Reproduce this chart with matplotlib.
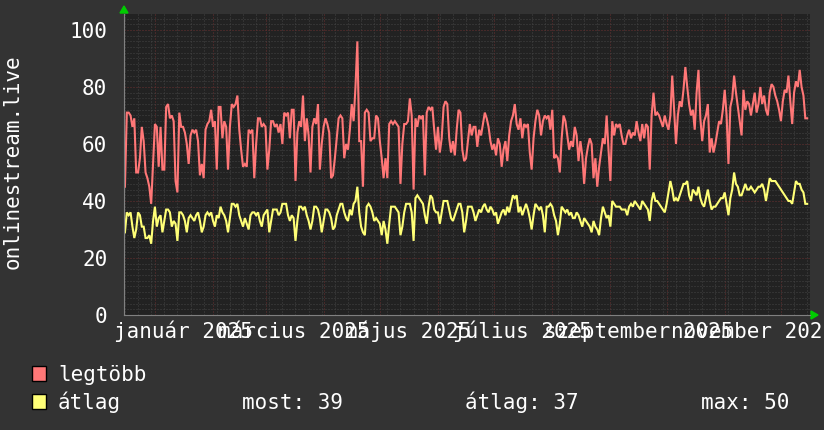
import numpy as np
import pandas as pd
import matplotlib
matplotlib.use("Agg")
import matplotlib.pyplot as plt
import matplotlib.dates as mdates
from matplotlib.patches import Rectangle, Polygon
from matplotlib.ticker import MultipleLocator

# ---------------- data ----------------
start_date = "2024-12-16"

legtobb = [
    45, 71, 71, 70, 66, 69, 50, 50, 55, 66,
    61, 50, 48, 45, 39, 53, 67, 66, 52, 66,
    51, 51, 73, 74, 69, 70, 68, 47, 43, 71,
    66, 66, 64, 60, 53, 63, 65, 64, 65, 61,
    49, 53, 48, 65, 67, 68, 72, 66, 68, 51,
    73, 73, 62, 68, 66, 51, 66, 74, 73, 74,
    77, 65, 58, 52, 53, 52, 65, 64, 65, 48,
    60, 69, 69, 66, 67, 66, 51, 58, 68, 68,
    66, 67, 64, 67, 60, 71, 70, 71, 62, 72,
    72, 47, 64, 68, 66, 77, 61, 69, 63, 50,
    66, 69, 67, 74, 51, 60, 66, 69, 67, 64,
    48, 49, 55, 62, 69, 70, 69, 55, 60, 58,
    65, 74, 68, 80, 96, 61, 61, 45, 71, 72,
    71, 61, 62, 62, 70, 69, 61, 55, 48, 55,
    48, 67, 68, 67, 68, 67, 66, 46, 60, 67,
    67, 68, 76, 70, 44, 69, 66, 70, 69, 70,
    49, 71, 73, 72, 73, 65, 58, 66, 57, 62,
    73, 75, 74, 62, 57, 61, 56, 65, 72, 71,
    58, 54, 55, 61, 67, 63, 66, 66, 59, 65,
    63, 67, 71, 69, 66, 61, 58, 60, 56, 62,
    60, 52, 58, 61, 54, 63, 68, 70, 74, 67,
    65, 69, 62, 67, 66, 67, 57, 51, 62, 68,
    72, 70, 63, 68, 70, 69, 70, 65, 72, 55,
    56, 55, 50, 62, 70, 68, 63, 58, 61, 59,
    66, 63, 54, 61, 56, 46, 55, 59, 62, 60,
    48, 55, 45, 52, 57, 62, 60, 70, 58, 47,
    68, 63, 67, 66, 67, 63, 60, 60, 63, 65,
    62, 64, 63, 68, 64, 61, 67, 62, 67, 66,
    51, 70, 78, 70, 71, 70, 68, 66, 70, 67,
    65, 70, 84, 72, 60, 70, 75, 73, 79, 87,
    80, 74, 70, 72, 65, 78, 86, 69, 61, 68,
    70, 74, 57, 62, 57, 60, 64, 68, 67, 72,
    79, 70, 53, 73, 76, 84, 78, 73, 68, 63,
    79, 72, 75, 74, 70, 74, 78, 71, 74, 80,
    74, 77, 72, 70, 78, 81, 80, 77, 75, 72,
    68, 75, 79, 78, 84, 75, 67, 78, 82, 80,
    86, 80, 77, 69, 69,
]

atlag = [
    29, 36, 35, 36, 31, 27, 30, 36, 35, 31,
    31, 27, 27, 28, 25, 33, 38, 31, 34, 35,
    29, 33, 37, 37, 36, 31, 33, 32, 26, 36,
    36, 35, 33, 29, 34, 35, 34, 33, 35, 36,
    33, 29, 31, 35, 36, 35, 36, 33, 31, 35,
    34, 38, 36, 35, 33, 29, 34, 39, 39, 38,
    39, 35, 33, 31, 34, 32, 30, 35, 36, 36,
    35, 36, 33, 31, 35, 36, 37, 29, 33, 37,
    37, 37, 35, 36, 39, 39, 39, 35, 33, 35,
    34, 26, 33, 38, 38, 37, 38, 35, 33, 30,
    33, 38, 38, 37, 34, 29, 33, 37, 37, 36,
    34, 30, 31, 35, 37, 39, 39, 36, 34, 33,
    37, 35, 39, 40, 45, 36, 31, 29, 28, 38,
    39, 38, 36, 33, 34, 33, 32, 28, 33, 30,
    25, 32, 38, 38, 38, 37, 36, 28, 31, 36,
    39, 39, 39, 36, 26, 41, 42, 41, 40, 39,
    35, 32, 38, 42, 41, 37, 36, 36, 32, 36,
    40, 40, 40, 37, 34, 33, 35, 37, 39, 39,
    36, 29, 33, 38, 38, 38, 36, 33, 35, 37,
    36, 38, 39, 37, 36, 38, 37, 35, 36, 32,
    34, 36, 37, 35, 38, 36, 39, 42, 41, 42,
    36, 38, 35, 37, 39, 37, 34, 30, 35, 39,
    38, 37, 38, 35, 29, 38, 38, 39, 38, 35,
    33, 28, 32, 38, 37, 36, 37, 35, 36, 34,
    34, 36, 35, 33, 31, 34, 33, 32, 31, 29,
    33, 31, 30, 28, 34, 38, 36, 34, 35, 31,
    40, 39, 38, 38, 38, 37, 37, 37, 35, 38,
    39, 38, 40, 39, 38, 37, 40, 39, 38, 37,
    33, 40, 43, 40, 40, 39, 38, 37, 36, 39,
    43, 47, 44, 40, 41, 40, 42, 44, 46, 46,
    47, 42, 40, 44, 43, 42, 45, 41, 39, 38,
    41, 44, 40, 37, 38, 38, 39, 40, 41, 41,
    43, 39, 35, 41, 44, 50, 46, 45, 42, 42,
    44, 46, 44, 44, 45, 44, 43, 44, 45, 45,
    46, 44, 40, 44, 48, 47, 47, 47, 46, 45,
    44, 43, 42, 41, 40, 40, 39, 43, 47, 46,
    46, 44, 43, 39, 39,
]

month_labels = ["január 2025", "március 2025", "május 2025",
                "július 2025", "szeptember 2025", "november 2025"]
label_months = ["2025-01-01", "2025-03-01", "2025-05-01",
                "2025-07-01", "2025-09-01", "2025-11-01"]
y_ticks = [0, 20, 40, 60, 80, 100]
y_title = "onlinestream.live"
legend_names = ["legtöbb", "átlag"]
stat_texts = ["most: 39", "átlag: 37", "max: 50"]

# ---------------- style ----------------
BG = "#333333"
CANVAS = "#222222"
RED = "#ff7777"
YEL = "#ffff77"
FONT = "DejaVu Sans Mono"
FS = 15

W, H = 824, 430
fig = plt.figure(figsize=(W / 100, H / 100), dpi=100, facecolor=BG)

L, R, T, B = 124, 810, 14, 315
ax = fig.add_axes([L / W, 1 - B / H, (R - L) / W, (B - T) / H])
ax.set_facecolor(CANVAS)

dates = pd.date_range(start_date, periods=len(legtobb), freq="D")
xnum = mdates.date2num(dates)

x0 = mdates.date2num(pd.Timestamp("2024-12-15 12:00"))
x1 = mdates.date2num(pd.Timestamp("2025-12-16 12:00"))
ax.set_xlim(x0, x1)
ax.set_ylim(0, 105.6)

# grid
ax.xaxis.set_major_locator(mdates.MonthLocator())
ax.xaxis.set_minor_locator(mdates.WeekdayLocator(byweekday=mdates.MO))
ax.yaxis.set_major_locator(MultipleLocator(20))
ax.yaxis.set_minor_locator(MultipleLocator(2))
ax.set_yticks(y_ticks)
ax.grid(which="minor", color="#444444", linestyle=(0, (1, 2)), linewidth=0.72)
ax.grid(which="major", color="#6a3030", linestyle=(0, (1, 2)), linewidth=0.72)
ax.set_axisbelow(True)

ax.plot(xnum, legtobb, color=RED, linewidth=1.5, solid_joinstyle="miter")
ax.plot(xnum, atlag, color=YEL, linewidth=1.5, solid_joinstyle="miter")

for s in ["top", "right"]:
    ax.spines[s].set_visible(False)
for s in ["left", "bottom"]:
    ax.spines[s].set_color("#808080")
    ax.spines[s].set_linewidth(0.8)

ax.tick_params(axis="x", which="both", length=0, labelbottom=False)
ax.tick_params(axis="y", which="both", length=0, pad=12,
               labelsize=FS, labelcolor="white")
for lab in ax.get_yticklabels():
    lab.set_fontfamily(FONT)

# x labels centered half a month after month start
tr = ax.get_xaxis_transform()
for lab, m in zip(month_labels, label_months):
    xc = mdates.date2num(pd.Timestamp(m) + pd.Timedelta(days=15))
    ax.text(xc, -23 / (B - T), lab, transform=tr, ha="center", va="baseline",
            fontsize=FS, family=FONT, color="white", clip_on=False)

# arrows
ax.add_patch(Polygon([[-4 / (R - L), 1.0 + 1 / (B - T)], [4 / (R - L), 1.0 + 1 / (B - T)],
                      [0, 1.0 + 8 / (B - T)]], closed=True, transform=ax.transAxes,
                     color="#00cc00", clip_on=False))
ax.add_patch(Polygon([[1.0 + 1 / (R - L), 4 / (B - T)], [1.0 + 1 / (R - L), -4 / (B - T)],
                      [1.0 + 8 / (R - L), 0]], closed=True, transform=ax.transAxes,
                     color="#00cc00", clip_on=False))

# y title
fig.text(13 / W, 1 - 162 / H, y_title, rotation=90, ha="center", va="center",
         fontsize=FS, family=FONT, color="white")

# legend
def px(x, y):
    return x / W, 1 - y / H

for i, (name, col) in enumerate(zip(legend_names, [RED, YEL])):
    ytop = 366 + i * 28
    fig.patches.append(Rectangle(px(32, ytop + 15), 14 / W, 15 / H, transform=fig.transFigure,
                                 facecolor=col, edgecolor="black", linewidth=1.0))
    fig.text(*px(58, 381 + i * 28), name, ha="left", va="baseline",
             fontsize=FS, family=FONT, color="white")

for txt, xp in zip(stat_texts, [242, 465, 701]):
    fig.text(*px(xp, 409), txt, ha="left", va="baseline",
             fontsize=FS, family=FONT, color="white")

fig.savefig("out.png", dpi=100, facecolor=BG)
